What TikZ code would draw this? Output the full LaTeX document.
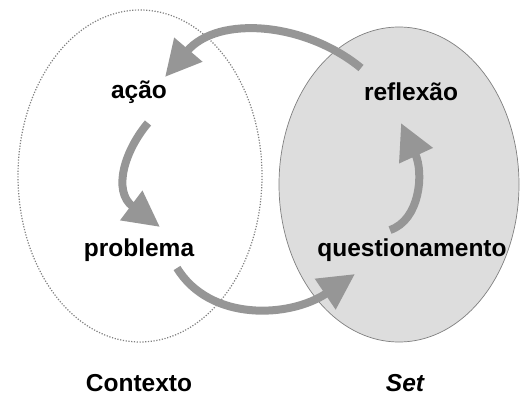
\documentclass[tikz,border=0pt]{standalone}
\usepackage{fontspec}
\setmainfont{Liberation Sans}
\usetikzlibrary{arrows.meta}
\definecolor{arrowgray}{HTML}{969696}
\definecolor{setfill}{HTML}{DDDDDD}
\definecolor{setedge}{HTML}{7F7F7F}
\tikzset{
  lbl/.style={font=\fontsize{24.5}{29}\selectfont\bfseries, inner sep=0pt},
  cyc/.style={draw=arrowgray, line width=8pt, -{Triangle[length=36pt,width=35pt]}},
}
\begin{document}
\begin{tikzpicture}[x=1pt,y=-1pt]
\useasboundingbox (0,0) rectangle (520,396);
% ellipses
\draw[setedge, dash pattern=on 1.2pt off 1.6pt, line width=1.2pt] (140,176) ellipse [x radius=122, y radius=166];
\draw[setedge, fill=setfill, line width=0.7pt] (399,184.5) ellipse [x radius=120, y radius=157.5];
% labels
\node[lbl] (acao) at (139,92) {ação};
\node[lbl] (reflexao) at (411,92) {reflexão};
\node[lbl] (problema) at (139,250) {problema};
\node[lbl] (quest) at (412,250) {questionamento};
\node[lbl] (contexto) at (139,383) {Contexto};
\node[lbl, font=\fontsize{24.5}{29}\selectfont\bfseries\itshape] (set) at (405,383) {Set};
% arrow end points
\coordinate (r1) at (361,68);
\coordinate (a1) at (165,77);
\coordinate (a2) at (148,123);
\coordinate (p1) at (160,227);
\coordinate (p2) at (177,268);
\coordinate (q1) at (355,274);
\coordinate (q2) at (390,230);
\coordinate (r2) at (401,123);
% cycle arrows
\draw[cyc] (r1) .. controls (305,22) and (218,15) .. (a1);
\draw[cyc] (a2) .. controls (125,150) and (112,191) .. (p1);
\draw[cyc] (p2) .. controls (210,322) and (290,318) .. (q1);
\draw[cyc] (q2) .. controls (420,220) and (424,173) .. (r2);
\end{tikzpicture}
\end{document}
